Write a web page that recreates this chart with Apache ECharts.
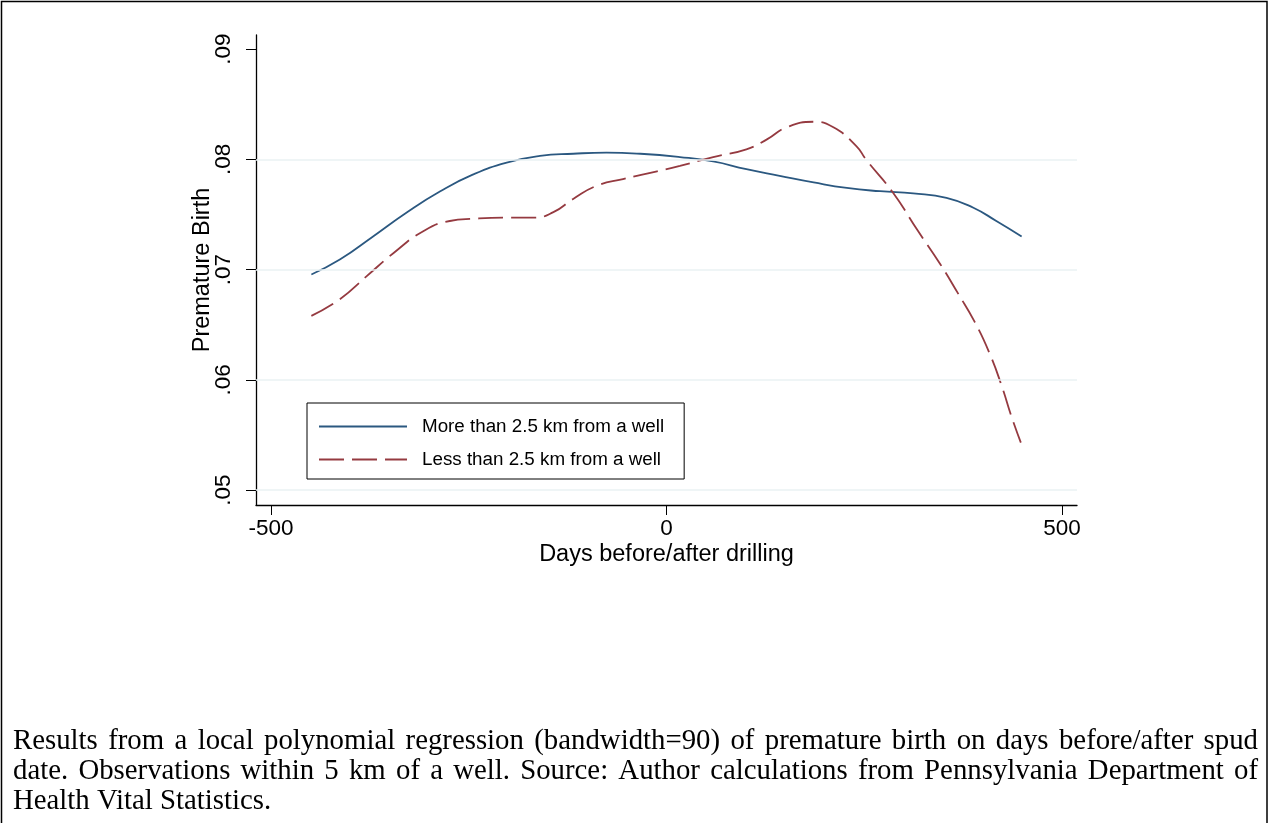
<!DOCTYPE html>
<html><head><meta charset="utf-8">
<script src="https://cdn.jsdelivr.net/npm/echarts@6/dist/echarts.min.js"></script>
<style>html,body{margin:0;padding:0;background:#fff;} #chart{width:1270px;height:823px;}</style>
</head><body><div id="chart"></div>
<script>
// ---- data ----
const xTicks = [-500, 0, 500];
const yTicks = [0.05, 0.06, 0.07, 0.08, 0.09];
const yTickLabels = ['.05', '.06', '.07', '.08', '.09'];
const gridValues = [0.05, 0.06, 0.07, 0.08];
const seriesNames = ['More than 2.5 km from a well', 'Less than 2.5 km from a well'];
const farDays = [-449, -413, -371, -328, -286, -245, -202, -160, -118, -76, -33, 17, 59, 101, 143, 186, 228, 270, 312, 354, 388, 417, 449];
const farValues = [0.06955, 0.0709, 0.0730, 0.0752, 0.0771, 0.0786, 0.0797, 0.0803, 0.0805, 0.0806, 0.0805, 0.0802, 0.0798, 0.0791, 0.0785, 0.0779, 0.0774, 0.0771, 0.0769, 0.0765, 0.0756, 0.0744, 0.0730];
const nearDays = [-449, -413, -379, -345, -307, -274, -244, -202, -168, -143, -118, -88, -55, -12, 17, 59, 101, 127, 152, 186, 211, 240, 252, 286, 317, 346, 368, 390, 409, 424, 436, 448];
const nearValues = [0.0658, 0.0673, 0.0694, 0.0715, 0.0735, 0.0744, 0.0746, 0.0747, 0.0747, 0.0752, 0.0764, 0.0776, 0.0782, 0.0789, 0.0794, 0.0802, 0.0809, 0.0818, 0.0829, 0.0834, 0.0829, 0.0812, 0.0800, 0.0770, 0.0736, 0.0705, 0.0679, 0.0652, 0.0623, 0.0594, 0.0567, 0.0543];
const xTitle = 'Days before/after drilling';
const yTitle = 'Premature Birth';
const captionLines = [
  'Results from a local polynomial regression (bandwidth=90) of premature birth on days before/after spud',
  'date. Observations within 5 km of a well. Source: Author calculations from Pennsylvania Department of',
  'Health Vital Statistics.'
];

// ---- styles ----
const sans = '"Liberation Sans", Arial, Helvetica, sans-serif';
const serif = '"Liberation Serif", "Times New Roman", serif';
const capSize = 28.8;
const capLeft = 13, capRight = 1258;
const capY = [741, 771, 801];

const ctx = document.createElement('canvas').getContext('2d');
ctx.font = capSize + 'px "Liberation Serif"';
const graphics = [];
graphics.push({type: 'rect', shape: {x: 1.5, y: 1.5, width: 1265.5, height: 900}, style: {fill: 'none', stroke: '#000', lineWidth: 1.5}, silent: true});
captionLines.forEach((line, i) => {
  const justify = i < captionLines.length - 1;
  if (!justify) {
    graphics.push({type: 'text', x: capLeft, y: capY[i], style: {text: line, fontSize: capSize, fontFamily: serif, fill: '#000', align: 'left', verticalAlign: 'middle'}});
    return;
  }
  const words = line.split(' ');
  const widths = words.map(w => ctx.measureText(w).width);
  const total = widths.reduce((a, b) => a + b, 0);
  const gap = (capRight - capLeft - total) / (words.length - 1);
  let x = capLeft;
  words.forEach((w, j) => {
    graphics.push({type: 'text', x: x, y: capY[i], style: {text: w, fontSize: capSize, fontFamily: serif, fill: '#000', align: 'left', verticalAlign: 'middle'}});
    x += widths[j] + gap;
  });
});

const blue = '#2b5880', red = '#953a40';
const chart = echarts.init(document.getElementById('chart'), null, {renderer: 'canvas'});
chart.setOption({
  animation: false,
  backgroundColor: '#fff',
  grid: {left: 256, right: 193, top: 35, bottom: 318, containLabel: false},
  xAxis: {
    type: 'value', min: -519, max: 519,
    name: xTitle, nameLocation: 'middle', nameGap: 38, nameMoveOverlap: false,
    nameTextStyle: {fontFamily: sans, fontSize: 23.5, color: '#000'},
    axisLine: {show: true, onZero: false, lineStyle: {color: '#000', width: 1.3}},
    axisTick: {show: true, length: 10, customValues: xTicks, lineStyle: {color: '#000', width: 1}},
    axisLabel: {customValues: xTicks, margin: 12, fontFamily: sans, fontSize: 22.5, color: '#000'},
    splitLine: {show: false}
  },
  yAxis: {
    type: 'value', min: 0.04864, max: 0.09127,
    name: yTitle, nameLocation: 'middle', nameGap: 41, nameRotate: 90, nameMoveOverlap: false,
    nameTextStyle: {fontFamily: sans, fontSize: 23.5, color: '#000'},
    axisLine: {show: true, onZero: false, lineStyle: {color: '#000', width: 1.3}},
    axisTick: {show: true, length: 10, customValues: yTicks, lineStyle: {color: '#000', width: 1}},
    axisLabel: {customValues: yTicks, rotate: 90, margin: 21, fontFamily: sans, fontSize: 22.5, color: '#000',
      formatter: v => { const k = yTicks.findIndex(t => Math.abs(t - v) < 1e-9); return k >= 0 ? yTickLabels[k] : ''; }},
    splitLine: {show: false}
  },
  legend: {
    orient: 'vertical', left: 307, top: 403,
    data: seriesNames,
    itemWidth: 88, itemHeight: 14, itemGap: 14,
    padding: [14, 20, 10, 11],
    borderColor: '#000', borderWidth: 1, backgroundColor: '#fff',
    itemStyle: {color: 'rgba(0,0,0,0)', borderWidth: 0, opacity: 0},
    textStyle: {fontFamily: sans, fontSize: 18.8, color: '#000', padding: [0, 0, 0, 10]}
  },
  series: [
    {type: 'line', name: 'grid', data: [], z: 1, silent: true,
      markLine: {silent: true, symbol: 'none', label: {show: false},
        lineStyle: {color: '#eaf2f3', width: 1.5, type: 'solid'},
        data: gridValues.map(v => ({yAxis: v}))}},
    {type: 'line', name: seriesNames[0], z: 3, symbol: 'none', smooth: 0.5,
      data: farDays.map((d, i) => [d, farValues[i]]),
      lineStyle: {color: blue, width: 1.8}, itemStyle: {color: blue}},
    {type: 'line', name: seriesNames[1], z: 3, symbol: 'none', smooth: 0.5,
      data: nearDays.map((d, i) => [d, nearValues[i]]),
      lineStyle: {color: red, width: 1.8, type: [25, 8]}, itemStyle: {color: red}}
  ],
  graphic: graphics
});
</script></body></html>
